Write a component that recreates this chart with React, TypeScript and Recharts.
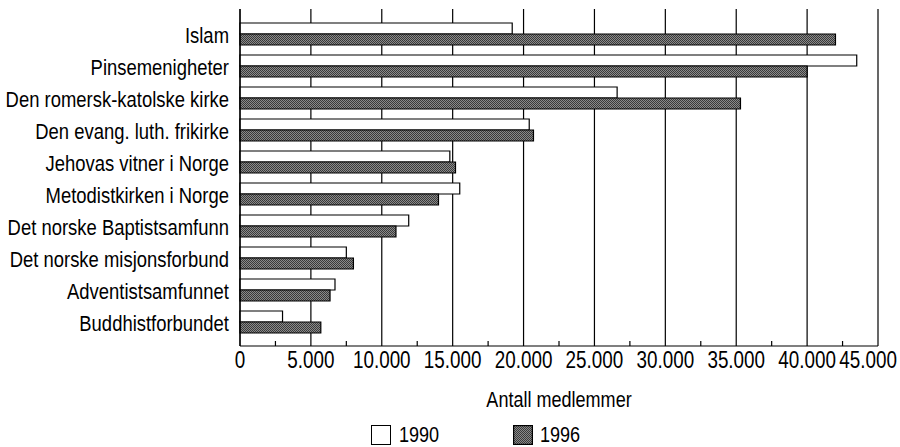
import React from 'react';
import { BarChart, Bar, XAxis, YAxis, CartesianGrid } from 'recharts';

const categories = [
  'Islam',
  'Pinsemenigheter',
  'Den romersk-katolske kirke',
  'Den evang. luth. frikirke',
  'Jehovas vitner i Norge',
  'Metodistkirken i Norge',
  'Det norske Baptistsamfunn',
  'Det norske misjonsforbund',
  'Adventistsamfunnet',
  'Buddhistforbundet',
];
const members1990 = [19200, 43500, 26600, 20400, 14800, 15500, 11900, 7500, 6700, 3000];
const members1996 = [42000, 40000, 35300, 20700, 15200, 14000, 11000, 8000, 6350, 5700];
const seriesNames = ['1990', '1996'];
const majorTicks = [0, 5000, 10000, 15000, 20000, 25000, 30000, 35000, 40000, 45000];
const minorTicks = [2500, 7500, 12500, 17500, 22500, 27500, 32500, 37500, 42500];
const axisTitle = 'Antall medlemmer';

const FONT = "'Liberation Sans', Arial, sans-serif";
const NARROW = 0.82;
const FS = 22;
const XMAX = 45000;

const data = categories.map((name, i) => ({
  name,
  v1990: members1990[i],
  v1996: members1996[i],
}));

const allTicks = [...majorTicks, ...minorTicks].sort((a, b) => a - b);

const fmt = (v: number) => String(v).replace(/\B(?=(\d{3})+(?!\d))/g, '.');

const XTick = (props: any) => {
  const { x, y, payload } = props;
  const v = payload.value as number;
  if (v % 5000 !== 0) {
    return <line x1={x} x2={x} y1={y} y2={y - 5} stroke="#000" strokeWidth={1.2} />;
  }
  const isLast = v === XMAX;
  return (
    <text
      transform={`translate(${isLast ? x + 19 : x},${y + 22}) scale(${NARROW},1)`}
      textAnchor={isLast ? 'end' : 'middle'}
      fontFamily={FONT}
      fontSize={23}
      fill="#000"
    >
      {fmt(v)}
    </text>
  );
};

const YTick = (props: any) => {
  const { x, y, payload } = props;
  return (
    <text
      transform={`translate(${x},${y + 9}) scale(${NARROW},1)`}
      textAnchor="end"
      fontFamily={FONT}
      fontSize={22.5}
      fill="#000"
    >
      {payload.value}
    </text>
  );
};

const AxisTitle = (props: any) => {
  const vb = props.viewBox || {};
  const cx = (vb.x || 0) + (vb.width || 0) / 2;
  const y = (vb.y || 0) + 61;
  return (
    <text
      transform={`translate(${cx},${y}) scale(${NARROW},1)`}
      textAnchor="middle"
      fontFamily={FONT}
      fontSize={FS}
      fill="#000"
    >
      {axisTitle}
    </text>
  );
};

const narrowSpan: React.CSSProperties = {
  display: 'inline-block',
  transform: `scaleX(${NARROW})`,
  transformOrigin: 'left center',
};

export default function App() {
  return (
    <div style={{ position: 'absolute', left: 0, top: 0, width: 900, height: 447, background: '#fff' }}>
      <BarChart
        width={900}
        height={447}
        data={data}
        layout="vertical"
        margin={{ top: 9, right: 22, bottom: 0, left: 0 }}
        barGap={0}
        barSize={11}
        style={{ fontFamily: FONT }}
      >
        <defs>
          <pattern id="dither" width="2" height="2" patternUnits="userSpaceOnUse">
            <rect width="2" height="2" fill="#8a8a8a" />
            <rect width="1" height="1" fill="#3a3a3a" />
            <rect x="1" y="1" width="1" height="1" fill="#3a3a3a" />
          </pattern>
        </defs>
        <CartesianGrid horizontal={false} verticalValues={majorTicks} stroke="#000" strokeWidth={1.2} />
        <XAxis
          type="number"
          domain={[0, XMAX]}
          ticks={allTicks}
          interval={0}
          tickSize={0}
          tickMargin={0}
          tickLine={false}
          tick={<XTick />}
          axisLine={{ stroke: '#000', strokeWidth: 1.2 }}
          height={101}
          label={{ content: <AxisTitle /> }}
        />
        <XAxis
          xAxisId="top"
          orientation="top"
          type="number"
          domain={[0, XMAX]}
          height={0}
          tick={false}
          tickLine={false}
          axisLine={{ stroke: '#000', strokeWidth: 1.2 }}
        />
        <YAxis
          type="category"
          dataKey="name"
          width={240}
          tickLine={false}
          tickSize={0}
          tickMargin={11}
          padding={{ top: 9, bottom: 8 }}
          axisLine={{ stroke: '#000', strokeWidth: 1.2 }}
          tick={<YTick />}
          interval={0}
        />
        <Bar dataKey="v1990" name={seriesNames[0]} fill="#fff" stroke="#000" strokeWidth={1.2} isAnimationActive={false} />
        <Bar dataKey="v1996" name={seriesNames[1]} fill="url(#dither)" stroke="#000" strokeWidth={1.2} isAnimationActive={false} />
      </BarChart>
      <div
        style={{
          position: 'absolute',
          left: 371,
          top: 425,
          display: 'flex',
          alignItems: 'center',
          fontFamily: FONT,
          fontSize: FS,
          color: '#000',
          lineHeight: '20px',
        }}
      >
        <span style={{ display: 'inline-block', width: 18, height: 18, border: '1.2px solid #000', background: '#fff' }} />
        <span style={{ marginLeft: 8, width: 114 }}>
          <span style={narrowSpan}>{seriesNames[0]}</span>
        </span>
        <svg width={20} height={20} style={{ display: 'block' }}>
          <defs>
            <pattern id="ditherLegend" width="2" height="2" patternUnits="userSpaceOnUse">
              <rect width="2" height="2" fill="#8a8a8a" />
              <rect width="1" height="1" fill="#3a3a3a" />
              <rect x="1" y="1" width="1" height="1" fill="#3a3a3a" />
            </pattern>
          </defs>
          <rect x={0.6} y={0.6} width={18.8} height={18.8} fill="url(#ditherLegend)" stroke="#000" strokeWidth={1.2} />
        </svg>
        <span style={{ marginLeft: 7 }}>
          <span style={narrowSpan}>{seriesNames[1]}</span>
        </span>
      </div>
    </div>
  );
}
